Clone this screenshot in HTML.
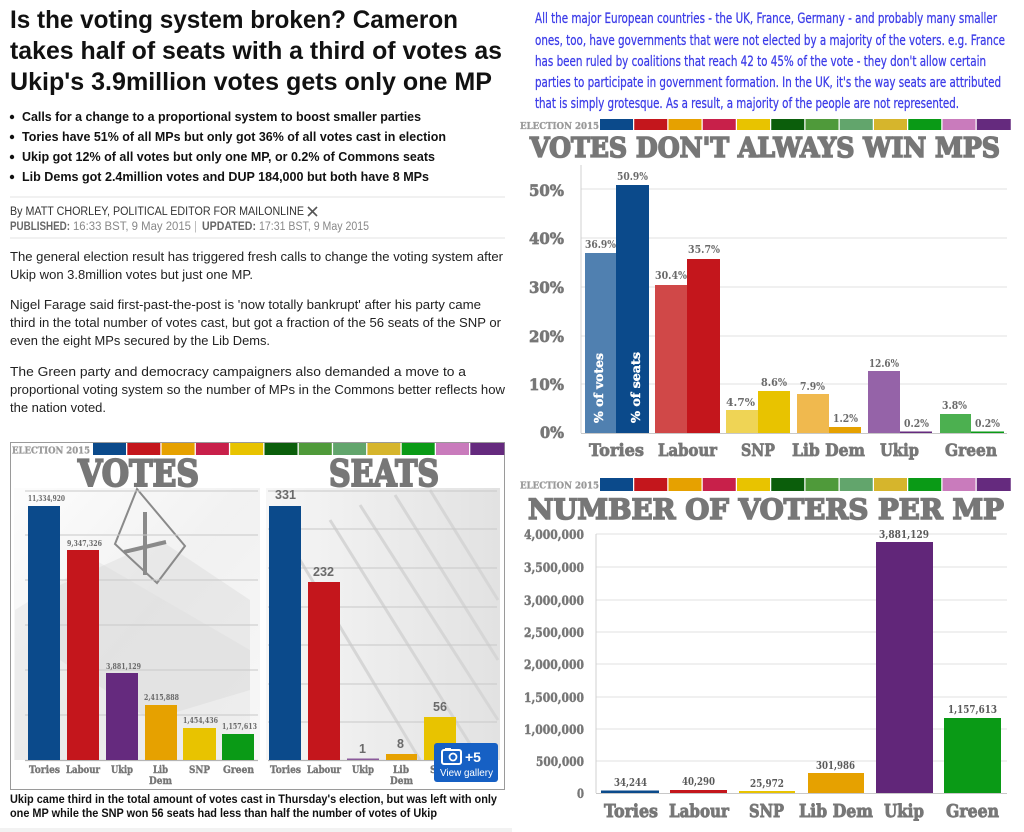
<!DOCTYPE html>
<html><head><meta charset="utf-8"><style>
html,body{margin:0;padding:0;background:#fff;width:1024px;height:832px;overflow:hidden}
svg{display:block}
.sans{font-family:"Liberation Sans",Arial,sans-serif}
.slab{font-family:"DejaVu Serif","Liberation Serif",serif;font-weight:bold}
.cond{font-family:"Liberation Sans Narrow","DejaVu Sans Condensed","Liberation Sans",sans-serif}
</style></head><body>
<svg width="1024" height="832" viewBox="0 0 1024 832" xmlns="http://www.w3.org/2000/svg">
<defs>
<linearGradient id="gv" x1="0" y1="0" x2="1" y2="1">
<stop offset="0" stop-color="#fcfcfc"/><stop offset="0.5" stop-color="#eeeeee"/><stop offset="1" stop-color="#f6f6f6"/>
</linearGradient>
<linearGradient id="gs" x1="0" y1="0" x2="1" y2="0">
<stop offset="0" stop-color="#f6f6f6"/><stop offset="1" stop-color="#e2e2e2"/>
</linearGradient>
</defs>
<rect width="1024" height="832" fill="#fff"/>

<!-- LEFT: headline -->
<g class="sans" font-weight="bold" fill="#111" font-size="25">
<text x="10" y="28" textLength="448" lengthAdjust="spacingAndGlyphs">Is the voting system broken? Cameron</text>
<text x="10" y="59" textLength="492" lengthAdjust="spacingAndGlyphs">takes half of seats with a third of votes as</text>
<text x="10" y="90" textLength="482" lengthAdjust="spacingAndGlyphs">Ukip's 3.9million votes gets only one MP</text>
</g>
<g class="sans" font-weight="bold" fill="#111" font-size="12.5">
<circle cx="12" cy="117" r="2.2"/><text x="22" y="121" textLength="399" lengthAdjust="spacingAndGlyphs">Calls for a change to a proportional system to boost smaller parties</text>
<circle cx="12" cy="137" r="2.2"/><text x="22" y="141" textLength="424" lengthAdjust="spacingAndGlyphs">Tories have 51% of all MPs but only got 36% of all votes cast in election</text>
<circle cx="12" cy="157" r="2.2"/><text x="22" y="161" textLength="413" lengthAdjust="spacingAndGlyphs">Ukip got 12% of all votes but only one MP, or 0.2% of Commons seats</text>
<circle cx="12" cy="177" r="2.2"/><text x="22" y="181" textLength="407" lengthAdjust="spacingAndGlyphs">Lib Dems got 2.4million votes and DUP 184,000 but both have 8 MPs</text>
</g>
<line x1="10" y1="197" x2="505" y2="197" stroke="#e3e3e3" stroke-width="1"/>
<text class="sans" x="10" y="215" font-size="11.5" fill="#333" textLength="294" lengthAdjust="spacingAndGlyphs">By MATT CHORLEY, POLITICAL EDITOR FOR MAILONLINE</text>
<g stroke="#555" stroke-width="1.6"><line x1="308" y1="207" x2="317" y2="216"/><line x1="317" y1="207" x2="308" y2="216"/></g>
<g class="sans" font-size="11.5">
<text x="10" y="230" font-weight="bold" fill="#666" textLength="60" lengthAdjust="spacingAndGlyphs">PUBLISHED:</text>
<text x="73" y="230" fill="#888" textLength="118" lengthAdjust="spacingAndGlyphs">16:33 BST, 9 May 2015</text>
<text x="194" y="230" fill="#bbb">|</text>
<text x="202" y="230" font-weight="bold" fill="#666" textLength="54" lengthAdjust="spacingAndGlyphs">UPDATED:</text>
<text x="259" y="230" fill="#888" textLength="110" lengthAdjust="spacingAndGlyphs">17:31 BST, 9 May 2015</text>
</g>
<line x1="10" y1="238" x2="505" y2="238" stroke="#e3e3e3" stroke-width="1"/>

<g class="sans" font-size="13" fill="#222">
<text x="10" y="261" textLength="493" lengthAdjust="spacingAndGlyphs">The general election result has triggered fresh calls to change the voting system after</text>
<text x="10" y="279" textLength="243" lengthAdjust="spacingAndGlyphs">Ukip won 3.8million votes but just one MP.</text>
<text x="10" y="309" textLength="471" lengthAdjust="spacingAndGlyphs">Nigel Farage said first-past-the-post is 'now totally bankrupt' after his party came</text>
<text x="10" y="327" textLength="491" lengthAdjust="spacingAndGlyphs">third in the total number of votes cast, but got a fraction of the 56 seats of the SNP or</text>
<text x="10" y="345" textLength="260" lengthAdjust="spacingAndGlyphs">even the eight MPs secured by the Lib Dems.</text>
<text x="10" y="376" textLength="456" lengthAdjust="spacingAndGlyphs">The Green party and democracy campaigners also demanded a move to a</text>
<text x="10" y="394" textLength="495" lengthAdjust="spacingAndGlyphs">proportional voting system so the number of MPs in the Commons better reflects how</text>
<text x="10" y="412" textLength="96" lengthAdjust="spacingAndGlyphs">the nation voted.</text>
</g>

<!-- LEFT chart box -->
<rect x="10.5" y="442.5" width="494" height="347" fill="#fff" stroke="#9a9a9a" stroke-width="1"/>
<!-- votes background -->
<rect x="14" y="488" width="246" height="272" fill="url(#gv)" opacity="0.8"/>
<polygon points="15,610 95,560 250,650 250,760 15,760" fill="#e2e2e2" opacity="0.45"/>
<polygon points="60,585 160,540 250,600 250,690 150,720 60,660" fill="#d4d4d4" opacity="0.35"/>
<polygon points="137,489 185,546 157,583 115,544" fill="none" stroke="#8a8a8a" stroke-width="2"/>
<line x1="145" y1="512" x2="145" y2="575" stroke="#8a8a8a" stroke-width="4"/>
<line x1="124" y1="552" x2="166" y2="542" stroke="#8a8a8a" stroke-width="4"/>
<!-- seats background -->
<rect x="266" y="488" width="234" height="272" fill="url(#gs)"/>
<g stroke="#d6d6d6" stroke-width="3" fill="none">
<line x1="330" y1="520" x2="480" y2="760"/><line x1="360" y1="505" x2="498" y2="720"/>
<line x1="395" y1="495" x2="498" y2="660"/><line x1="430" y1="490" x2="498" y2="600"/>
<line x1="300" y1="560" x2="420" y2="760"/>
</g>

<!-- header stripes left -->
<text class="slab" x="12" y="453.5" font-size="9" fill="#9a9a9a" stroke="#9a9a9a" stroke-width="0.3" textLength="78" lengthAdjust="spacingAndGlyphs">ELECTION 2015</text>
<g>
<rect x="93" y="443" width="33" height="12" fill="#0b4a8b"/>
<rect x="127.3" y="443" width="33" height="12" fill="#c4161c"/>
<rect x="161.6" y="443" width="33" height="12" fill="#e6a100"/>
<rect x="195.9" y="443" width="33" height="12" fill="#c8204a"/>
<rect x="230.2" y="443" width="33" height="12" fill="#e8c300"/>
<rect x="264.5" y="443" width="33" height="12" fill="#0b5e0b"/>
<rect x="298.8" y="443" width="33" height="12" fill="#4f9a3a"/>
<rect x="333.1" y="443" width="33" height="12" fill="#62a56c"/>
<rect x="367.4" y="443" width="33" height="12" fill="#d6b52c"/>
<rect x="401.7" y="443" width="33" height="12" fill="#0a9a16"/>
<rect x="436" y="443" width="33" height="12" fill="#c97bbc"/>
<rect x="470.3" y="443" width="34" height="12" fill="#652a7e"/>
</g>
<text class="slab" x="78" y="486" font-size="36" fill="#777" stroke="#777" stroke-width="2" textLength="121" lengthAdjust="spacingAndGlyphs">VOTES</text>
<text class="slab" x="329" y="486" font-size="36" fill="#777" stroke="#777" stroke-width="2" textLength="110" lengthAdjust="spacingAndGlyphs">SEATS</text>

<!-- left gridlines -->
<g stroke="#c8c8c8" stroke-width="1">
<line x1="25" y1="491" x2="258" y2="491"/><line x1="25" y1="535" x2="258" y2="535"/>
<line x1="25" y1="580" x2="258" y2="580"/><line x1="25" y1="625" x2="258" y2="625"/>
<line x1="25" y1="670" x2="258" y2="670"/><line x1="25" y1="715" x2="258" y2="715"/>
<line x1="268" y1="491" x2="497" y2="491"/><line x1="268" y1="529" x2="497" y2="529"/>
<line x1="268" y1="568" x2="497" y2="568"/><line x1="268" y1="607" x2="497" y2="607"/>
<line x1="268" y1="645" x2="497" y2="645"/><line x1="268" y1="684" x2="497" y2="684"/>
<line x1="268" y1="722" x2="497" y2="722"/>
</g>
<g stroke="#b5b5b5" stroke-width="1.2">
<line x1="25" y1="760.5" x2="258" y2="760.5"/><line x1="268" y1="760.5" x2="497" y2="760.5"/>
</g>
<!-- votes bars -->
<rect x="28" y="506" width="32" height="254" fill="#0b4a8b"/>
<rect x="67" y="550" width="32" height="210" fill="#c4161c"/>
<rect x="106" y="673" width="32" height="87" fill="#652a7e"/>
<rect x="145" y="705" width="32" height="55" fill="#e6a100"/>
<rect x="183" y="728" width="33" height="32" fill="#e8c300"/>
<rect x="222" y="734" width="32" height="26" fill="#0a9a16"/>
<g class="slab" font-size="8" fill="#6a6a6a">
<text x="28" y="501" textLength="37" lengthAdjust="spacingAndGlyphs">11,334,920</text>
<text x="67" y="546" textLength="35" lengthAdjust="spacingAndGlyphs">9,347,326</text>
<text x="106" y="669" textLength="35" lengthAdjust="spacingAndGlyphs">3,881,129</text>
<text x="144" y="700" textLength="35" lengthAdjust="spacingAndGlyphs">2,415,888</text>
<text x="183" y="723" textLength="35" lengthAdjust="spacingAndGlyphs">1,454,436</text>
<text x="222" y="729" textLength="35" lengthAdjust="spacingAndGlyphs">1,157,613</text>
</g>
<!-- seats bars -->
<rect x="269" y="506" width="32" height="254" fill="#0b4a8b"/>
<rect x="308" y="582" width="32" height="178" fill="#c4161c"/>
<rect x="347" y="758.5" width="32" height="1.5" fill="#8a5a9a"/>
<rect x="386" y="754" width="31" height="6" fill="#e6a100"/>
<rect x="424" y="717" width="32" height="43" fill="#e8c300"/>
<g class="sans" font-weight="bold" font-size="12.5" fill="#6a6a6a">
<text x="275" y="499" textLength="21" lengthAdjust="spacingAndGlyphs">331</text>
<text x="313" y="576" textLength="21" lengthAdjust="spacingAndGlyphs">232</text>
<text x="359" y="753">1</text>
<text x="397" y="748">8</text>
<text x="433" y="711" textLength="14" lengthAdjust="spacingAndGlyphs">56</text>
</g>
<g class="slab" font-size="10" fill="#777" stroke="#777" stroke-width="0.4">
<text x="29" y="773" textLength="31" lengthAdjust="spacingAndGlyphs">Tories</text>
<text x="66" y="773" textLength="34" lengthAdjust="spacingAndGlyphs">Labour</text>
<text x="111" y="773" textLength="22" lengthAdjust="spacingAndGlyphs">Ukip</text>
<text x="153" y="773" textLength="15" lengthAdjust="spacingAndGlyphs">Lib</text>
<text x="149" y="784" textLength="23" lengthAdjust="spacingAndGlyphs">Dem</text>
<text x="189" y="773" textLength="21" lengthAdjust="spacingAndGlyphs">SNP</text>
<text x="223" y="773" textLength="31" lengthAdjust="spacingAndGlyphs">Green</text>
<text x="270" y="773" textLength="31" lengthAdjust="spacingAndGlyphs">Tories</text>
<text x="307" y="773" textLength="34" lengthAdjust="spacingAndGlyphs">Labour</text>
<text x="352" y="773" textLength="22" lengthAdjust="spacingAndGlyphs">Ukip</text>
<text x="393" y="773" textLength="16" lengthAdjust="spacingAndGlyphs">Lib</text>
<text x="390" y="784" textLength="23" lengthAdjust="spacingAndGlyphs">Dem</text>
<text x="430" y="773">S</text>
</g>
<!-- gallery button -->
<rect x="434" y="743" width="64" height="39" rx="3" fill="#1660c4"/>
<rect x="442" y="750" width="19" height="14" rx="2" fill="none" stroke="#fff" stroke-width="2"/>
<rect x="445" y="748" width="6" height="3" fill="#fff"/>
<circle cx="453" cy="757" r="3.5" fill="none" stroke="#fff" stroke-width="1.8"/>
<text class="sans" x="465" y="762" font-size="14" font-weight="bold" fill="#fff">+5</text>
<text class="sans" x="440" y="776" font-size="10.5" fill="#fff" textLength="53" lengthAdjust="spacingAndGlyphs">View gallery</text>

<!-- caption -->
<g class="sans" font-weight="bold" font-size="12.3" fill="#111">
<text x="10" y="803" textLength="487" lengthAdjust="spacingAndGlyphs">Ukip came third in the total amount of votes cast in Thursday's election, but was left with only</text>
<text x="10" y="817" textLength="427" lengthAdjust="spacingAndGlyphs">one MP while the SNP won 56 seats had less than half the number of votes of Ukip</text>
</g>
<rect x="0" y="828" width="512" height="4" fill="#f2f2f2"/>

<!-- RIGHT: blue text -->
<g class="cond" font-size="14.5" fill="#3c3ce8" stroke="#3c3ce8" stroke-width="0.25">
<text x="535" y="23" textLength="462" lengthAdjust="spacingAndGlyphs">All the major European countries - the UK, France, Germany - and probably many smaller</text>
<text x="535" y="45" textLength="470" lengthAdjust="spacingAndGlyphs">ones, too, have governments that were not elected by a majority of the voters. e.g. France</text>
<text x="535" y="66" textLength="451" lengthAdjust="spacingAndGlyphs">has been ruled by coalitions that reach 42 to 45% of the vote - they don't allow certain</text>
<text x="535" y="87" textLength="466" lengthAdjust="spacingAndGlyphs">parties to participate in government formation. In the UK, it's the way seats are attributed</text>
<text x="535" y="108" textLength="424" lengthAdjust="spacingAndGlyphs">that is simply grotesque. As a result, a majority of the people are not represented.</text>
</g>

<!-- chart 1 header -->
<text class="slab" x="520" y="129" font-size="9" fill="#9a9a9a" stroke="#9a9a9a" stroke-width="0.3" textLength="79" lengthAdjust="spacingAndGlyphs">ELECTION 2015</text>
<g>
<rect x="600" y="119" width="33" height="11" fill="#0b4a8b"/>
<rect x="634.25" y="119" width="33" height="11" fill="#c4161c"/>
<rect x="668.5" y="119" width="33" height="11" fill="#e6a100"/>
<rect x="702.75" y="119" width="33" height="11" fill="#c8204a"/>
<rect x="737" y="119" width="33" height="11" fill="#e8c300"/>
<rect x="771.25" y="119" width="33" height="11" fill="#0b5e0b"/>
<rect x="805.5" y="119" width="33" height="11" fill="#4f9a3a"/>
<rect x="839.75" y="119" width="33" height="11" fill="#62a56c"/>
<rect x="874" y="119" width="33" height="11" fill="#d6b52c"/>
<rect x="908.25" y="119" width="33" height="11" fill="#0a9a16"/>
<rect x="942.5" y="119" width="33" height="11" fill="#c97bbc"/>
<rect x="976.75" y="119" width="34" height="11" fill="#652a7e"/>
</g>
<text class="slab" x="530" y="157" font-size="27" fill="#777" stroke="#777" stroke-width="1.6" textLength="470" lengthAdjust="spacingAndGlyphs">VOTES DON'T ALWAYS WIN MPS</text>

<!-- chart 1 grid -->
<g stroke="#e0e0e0" stroke-width="1">
<line x1="581" y1="189" x2="1007" y2="189"/><line x1="581" y1="238" x2="1007" y2="238"/>
<line x1="581" y1="287" x2="1007" y2="287"/><line x1="581" y1="336" x2="1007" y2="336"/>
<line x1="581" y1="384" x2="1007" y2="384"/>
</g>
<line x1="581" y1="165" x2="581" y2="433" stroke="#d0d0d0" stroke-width="1"/>
<line x1="581" y1="433.5" x2="1007" y2="433.5" stroke="#c8c8c8" stroke-width="1"/>
<g class="slab" font-size="16" fill="#777" stroke="#777" stroke-width="0.7">
<text x="529" y="196" textLength="35" lengthAdjust="spacingAndGlyphs">50%</text>
<text x="529" y="244" textLength="35" lengthAdjust="spacingAndGlyphs">40%</text>
<text x="529" y="293" textLength="35" lengthAdjust="spacingAndGlyphs">30%</text>
<text x="529" y="342" textLength="35" lengthAdjust="spacingAndGlyphs">20%</text>
<text x="529" y="390" textLength="35" lengthAdjust="spacingAndGlyphs">10%</text>
<text x="540" y="438" textLength="24" lengthAdjust="spacingAndGlyphs">0%</text>
</g>
<!-- chart 1 bars -->
<rect x="585" y="253" width="31" height="180" fill="#5080b0"/>
<rect x="616" y="185" width="33" height="248" fill="#0b4a8b"/>
<rect x="655" y="285" width="32" height="148" fill="#d04848"/>
<rect x="687" y="259" width="33" height="174" fill="#c4161c"/>
<rect x="726" y="410" width="32" height="23" fill="#efd455"/>
<rect x="758" y="391" width="32" height="42" fill="#e8c300"/>
<rect x="797" y="394" width="32" height="39" fill="#f0b94e"/>
<rect x="829" y="427" width="32" height="6" fill="#e6a100"/>
<rect x="868" y="371" width="32" height="62" fill="#9563a8"/>
<rect x="900" y="431.5" width="32" height="1.5" fill="#652a7e"/>
<rect x="940" y="414" width="31" height="19" fill="#4cb050"/>
<rect x="971" y="431.5" width="33" height="1.5" fill="#0a9a16"/>
<g class="slab" font-size="11" fill="#6a6a6a">
<text x="585" y="248" textLength="31" lengthAdjust="spacingAndGlyphs">36.9%</text>
<text x="617" y="180" textLength="31" lengthAdjust="spacingAndGlyphs">50.9%</text>
<text x="655" y="279" textLength="32" lengthAdjust="spacingAndGlyphs">30.4%</text>
<text x="688" y="253" textLength="32" lengthAdjust="spacingAndGlyphs">35.7%</text>
<text x="726" y="406" textLength="29" lengthAdjust="spacingAndGlyphs">4.7%</text>
<text x="761" y="386" textLength="26" lengthAdjust="spacingAndGlyphs">8.6%</text>
<text x="800" y="390" textLength="25" lengthAdjust="spacingAndGlyphs">7.9%</text>
<text x="833" y="422" textLength="25" lengthAdjust="spacingAndGlyphs">1.2%</text>
<text x="869" y="367" textLength="30" lengthAdjust="spacingAndGlyphs">12.6%</text>
<text x="904" y="427" textLength="25" lengthAdjust="spacingAndGlyphs">0.2%</text>
<text x="942" y="409" textLength="25" lengthAdjust="spacingAndGlyphs">3.8%</text>
<text x="975" y="427" textLength="25" lengthAdjust="spacingAndGlyphs">0.2%</text>
</g>
<g class="slab" font-size="12" fill="#fff" stroke="#fff" stroke-width="0.4">
<text transform="translate(603,423) rotate(-90)" textLength="70" lengthAdjust="spacingAndGlyphs">% of votes</text>
<text transform="translate(640,423) rotate(-90)" textLength="71" lengthAdjust="spacingAndGlyphs">% of seats</text>
</g>
<g class="slab" font-size="17" fill="#777" stroke="#777" stroke-width="0.8">
<text x="589" y="456" textLength="55" lengthAdjust="spacingAndGlyphs">Tories</text>
<text x="658" y="456" textLength="59" lengthAdjust="spacingAndGlyphs">Labour</text>
<text x="741" y="456" textLength="34" lengthAdjust="spacingAndGlyphs">SNP</text>
<text x="792" y="456" textLength="73" lengthAdjust="spacingAndGlyphs">Lib Dem</text>
<text x="880" y="456" textLength="39" lengthAdjust="spacingAndGlyphs">Ukip</text>
<text x="945" y="456" textLength="52" lengthAdjust="spacingAndGlyphs">Green</text>
</g>

<!-- chart 2 header -->
<text class="slab" x="520" y="488.5" font-size="9" fill="#9a9a9a" stroke="#9a9a9a" stroke-width="0.3" textLength="79" lengthAdjust="spacingAndGlyphs">ELECTION 2015</text>
<g>
<rect x="600" y="478" width="33" height="13" fill="#0b4a8b"/>
<rect x="634.25" y="478" width="33" height="13" fill="#c4161c"/>
<rect x="668.5" y="478" width="33" height="13" fill="#e6a100"/>
<rect x="702.75" y="478" width="33" height="13" fill="#c8204a"/>
<rect x="737" y="478" width="33" height="13" fill="#e8c300"/>
<rect x="771.25" y="478" width="33" height="13" fill="#0b5e0b"/>
<rect x="805.5" y="478" width="33" height="13" fill="#4f9a3a"/>
<rect x="839.75" y="478" width="33" height="13" fill="#62a56c"/>
<rect x="874" y="478" width="33" height="13" fill="#d6b52c"/>
<rect x="908.25" y="478" width="33" height="13" fill="#0a9a16"/>
<rect x="942.5" y="478" width="33" height="13" fill="#c97bbc"/>
<rect x="976.75" y="478" width="34" height="13" fill="#652a7e"/>
</g>
<text class="slab" x="528" y="519" font-size="28" fill="#777" stroke="#777" stroke-width="1.6" textLength="476" lengthAdjust="spacingAndGlyphs">NUMBER OF VOTERS PER MP</text>

<!-- chart 2 grid -->
<g stroke="#e0e0e0" stroke-width="1">
<line x1="596" y1="534" x2="1007" y2="534"/><line x1="596" y1="567" x2="1007" y2="567"/>
<line x1="596" y1="600" x2="1007" y2="600"/><line x1="596" y1="632" x2="1007" y2="632"/>
<line x1="596" y1="664" x2="1007" y2="664"/><line x1="596" y1="697" x2="1007" y2="697"/>
<line x1="596" y1="729" x2="1007" y2="729"/><line x1="596" y1="761" x2="1007" y2="761"/>
</g>
<line x1="596" y1="534" x2="596" y2="793" stroke="#d0d0d0" stroke-width="1"/>
<line x1="596" y1="793.5" x2="1007" y2="793.5" stroke="#c8c8c8" stroke-width="1"/>
<g class="slab" font-size="13" fill="#777" stroke="#777" stroke-width="0.5">
<text x="524" y="539" textLength="60" lengthAdjust="spacingAndGlyphs">4,000,000</text>
<text x="524" y="572" textLength="60" lengthAdjust="spacingAndGlyphs">3,500,000</text>
<text x="524" y="605" textLength="60" lengthAdjust="spacingAndGlyphs">3,000,000</text>
<text x="524" y="637" textLength="60" lengthAdjust="spacingAndGlyphs">2,500,000</text>
<text x="524" y="669" textLength="60" lengthAdjust="spacingAndGlyphs">2,000,000</text>
<text x="524" y="702" textLength="60" lengthAdjust="spacingAndGlyphs">1,500,000</text>
<text x="524" y="734" textLength="60" lengthAdjust="spacingAndGlyphs">1,000,000</text>
<text x="536" y="766" textLength="48" lengthAdjust="spacingAndGlyphs">500,000</text>
<text x="577" y="798" textLength="7" lengthAdjust="spacingAndGlyphs">0</text>
</g>
<rect x="601" y="790.5" width="58" height="2.5" fill="#0b4a8b"/>
<rect x="670" y="790" width="57" height="3" fill="#c4161c"/>
<rect x="739" y="791" width="56" height="2" fill="#e8c300"/>
<rect x="808" y="773" width="56" height="20" fill="#e6a100"/>
<rect x="876" y="542" width="57" height="251" fill="#612679"/>
<rect x="944" y="718" width="57" height="75" fill="#0a9a16"/>
<g class="slab" font-size="11" fill="#5a5a5a">
<text x="614" y="786" textLength="33" lengthAdjust="spacingAndGlyphs">34,244</text>
<text x="682" y="785" textLength="33" lengthAdjust="spacingAndGlyphs">40,290</text>
<text x="750" y="787" textLength="34" lengthAdjust="spacingAndGlyphs">25,972</text>
<text x="816" y="769" textLength="39" lengthAdjust="spacingAndGlyphs">301,986</text>
<text x="879" y="538" textLength="50" lengthAdjust="spacingAndGlyphs">3,881,129</text>
<text x="948" y="713" textLength="49" lengthAdjust="spacingAndGlyphs">1,157,613</text>
</g>
<g class="slab" font-size="18" fill="#777" stroke="#777" stroke-width="0.9">
<text x="604" y="817" textLength="54" lengthAdjust="spacingAndGlyphs">Tories</text>
<text x="669" y="817" textLength="60" lengthAdjust="spacingAndGlyphs">Labour</text>
<text x="749" y="817" textLength="35" lengthAdjust="spacingAndGlyphs">SNP</text>
<text x="799" y="817" textLength="74" lengthAdjust="spacingAndGlyphs">Lib Dem</text>
<text x="884" y="817" textLength="40" lengthAdjust="spacingAndGlyphs">Ukip</text>
<text x="946" y="817" textLength="53" lengthAdjust="spacingAndGlyphs">Green</text>
</g>
</svg>
</body></html>
